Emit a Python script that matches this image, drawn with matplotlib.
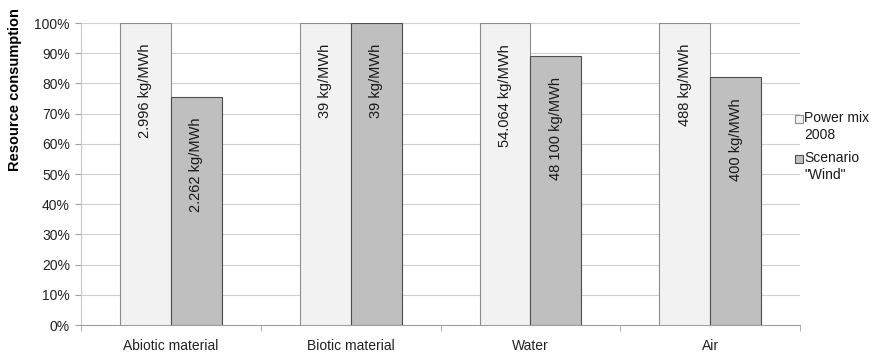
import matplotlib
matplotlib.use("Agg")
import matplotlib.pyplot as plt
from matplotlib.patches import Rectangle
import numpy as np

plt.rcParams['font.family'] = ['Liberation Sans', 'DejaVu Sans']

categories = ["Abiotic material", "Biotic material", "Water", "Air"]
power_mix = [100, 100, 100, 100]
wind = [75.5, 100, 89, 82]
power_labels = ["2.996 kg/MWh", "39 kg/MWh", "54.064 kg/MWh", "488 kg/MWh"]
wind_labels = ["2.262 kg/MWh", "39 kg/MWh", "48 100 kg/MWh", "400 kg/MWh"]
series_names = ["Power mix\n2008", "Scenario\n\"Wind\""]
colors = ["#f2f2f2", "#bfbfbf"]
edges = ["#8c8c8c", "#4d4d4d"]

fig = plt.figure(figsize=(8.73, 3.54), dpi=100)
ax = fig.add_axes([0.0928, 0.0819, 0.8236, 0.853])

x = np.arange(len(categories))
w = 0.283
b1 = ax.bar(x - w / 2, power_mix, w, color=colors[0], edgecolor=edges[0], linewidth=0.8, zorder=3)
b2 = ax.bar(x + w / 2, wind, w, color=colors[1], edgecolor=edges[1], linewidth=0.8, zorder=3)

for rects, labels in ((b1, power_labels), (b2, wind_labels)):
    for r, lab in zip(rects, labels):
        ax.annotate(lab, (r.get_x() + r.get_width() / 2, r.get_height()),
                    xytext=(0, -15), textcoords="offset points",
                    rotation=90, ha="center", va="top", fontsize=10.5, color="#1a1a1a", zorder=4)

ax.set_xlim(-0.5, len(categories) - 0.5)
ax.set_ylim(0, 100)
ax.set_yticks(np.arange(0, 101, 10))
ax.set_yticklabels([f"{v}%" for v in range(0, 101, 10)], fontsize=10, color="#222222")
ax.yaxis.grid(True, color="#d0d0d0", linewidth=0.8, zorder=0)
ax.set_axisbelow(True)

ax.set_xticks(x)
ax.set_xticklabels(categories, fontsize=10, color="#222222")
ax.tick_params(axis="x", which="major", length=0, pad=10)
ax.set_xticks(np.arange(-0.5, len(categories), 1), minor=True)
ax.tick_params(axis="x", which="minor", length=4, color="#a0a0a0")
ax.tick_params(axis="y", length=4, color="#a0a0a0", pad=4)

for s in ("top", "right"):
    ax.spines[s].set_visible(False)
ax.spines["left"].set_color("#c8c8c8")
ax.spines["bottom"].set_color("#a0a0a0")

ax.set_ylabel("Resource consumption", fontsize=10.5, fontweight="bold")
ax.yaxis.set_label_coords(-0.082, 0.78)

# legend drawn manually so each marker aligns with the first line of its label
trans = fig.transFigure
for i, (name, c, e) in enumerate(zip(series_names, colors, edges)):
    ytop = 1 - (112 + i * 40) / 354
    fig.patches.append(Rectangle((795 / 873, ytop - 11 / 354), 8 / 873, 8 / 354,
                                 transform=trans, facecolor=c, edgecolor=e, linewidth=0.8))
    fig.text(804 / 873, ytop + 1 / 354, name, transform=trans, fontsize=10, va="top", ha="left",
             color="#1a1a1a", linespacing=1.25)

fig.savefig("out.png", dpi=100)
